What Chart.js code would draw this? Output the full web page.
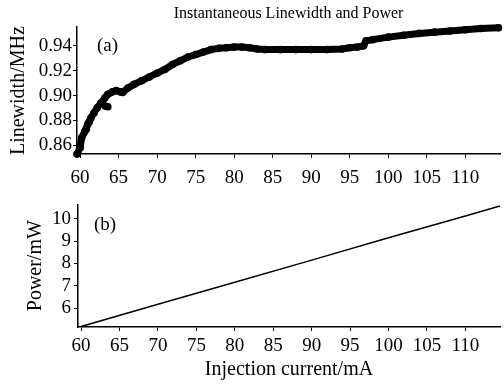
<!DOCTYPE html>
<html>
<head>
<meta charset="utf-8">
<script src="https://cdn.jsdelivr.net/npm/chart.js@4"></script>
<style>
  html, body { margin: 0; padding: 0; background: #fff; }
  #wrap { position: relative; width: 504px; height: 384px; }
  canvas { position: absolute; left: 0; }
</style>
</head>
<body>
<div id="wrap">
  <canvas id="lw" width="504" height="190" style="top:0"></canvas>
  <canvas id="pw" width="504" height="194" style="top:190px"></canvas>
</div>
<script>
// (a) linewidth vs injection current
const currentA = [59.6, 60.0, 60.2, 60.6, 61.0, 61.4, 61.8, 62.2, 62.7, 63.2, 63.6, 64.2, 64.7, 65.2, 65.6,
  66.2, 67.0, 68.0, 69.0, 70.0, 71.0, 72.0, 73.0, 74.0, 75.0, 76.0, 77.0, 78.0, 79.0, 80.0,
  81.0, 82.0, 83.0, 84.0, 86.0, 88.0, 90.0, 92.0, 94.0, 95.0, 96.0, 96.8, 97.1, 98.0,
  100.0, 102.0, 104.0, 106.0, 108.0, 110.0, 112.0, 114.3];
const linewidth = [0.853, 0.858, 0.866, 0.871, 0.877, 0.882, 0.886, 0.890, 0.894, 0.898, 0.901, 0.903, 0.904, 0.903, 0.903,
  0.906, 0.909, 0.912, 0.915, 0.918, 0.921, 0.925, 0.928, 0.931, 0.933, 0.935, 0.937, 0.938, 0.9385, 0.939,
  0.939, 0.9385, 0.9375, 0.937, 0.937, 0.937, 0.937, 0.937, 0.9375, 0.9385, 0.939, 0.940, 0.944, 0.945,
  0.947, 0.9485, 0.950, 0.951, 0.952, 0.953, 0.954, 0.9545];
// scattered points off the main trace
const strayCurrent = [60.8, 61.2, 63.3, 63.6, 65.5];
const strayLinewidth = [0.873, 0.879, 0.8915, 0.891, 0.9025];

// (b) output power vs injection current
const currentB = [60, 70, 80, 90, 100, 110, 114.5];
const power = [5.17, 6.17, 7.16, 8.15, 9.15, 10.13, 10.58];

const xTicks = [60, 65, 70, 75, 80, 85, 90, 95, 100, 105, 110];
const lwTicks = [0.86, 0.88, 0.90, 0.92, 0.94];
const pwTicks = [6, 7, 8, 9, 10];

Chart.defaults.font.family = "'Liberation Serif', 'Times New Roman', serif";
Chart.defaults.color = '#000';

const pts = (xs, ys) => xs.map((x, i) => ({ x: x, y: ys[i] }));
const fixTicks = list => s => { s.ticks = list.map(v => ({ value: v })); };

// "(a)" / "(b)" tag in the upper left of the plot area
const panelTag = {
  id: 'panelTag',
  afterDraw(chart, args, opts) {
    const { ctx, chartArea } = chart;
    ctx.save();
    ctx.font = "19px 'Liberation Serif'";
    ctx.fillStyle = '#000';
    ctx.textBaseline = 'middle';
    ctx.fillText(opts.text, chartArea.left + opts.dx, chartArea.top + opts.dy);
    ctx.restore();
  }
};

function axis(min, max, ticks, fmt, fit, extra, pad) {
  return Object.assign({
    type: 'linear', min: min, max: max,
    afterBuildTicks: fixTicks(ticks),
    afterFit: fit,
    grid: { drawOnChartArea: false, drawTicks: true, tickLength: 4, color: '#000', lineWidth: 1 },
    border: { display: true, color: '#000', width: 1.5 },
    ticks: { font: { size: 19 }, color: '#000', autoSkip: false, maxRotation: 0, padding: pad, callback: fmt }
  }, extra);
}

new Chart(document.getElementById('lw'), {
  type: 'scatter',
  data: {
    datasets: [{
      data: pts(currentA, linewidth),
      showLine: true, borderColor: '#000', borderWidth: 7,
      borderCapStyle: 'round', borderJoinStyle: 'round',
      pointRadius: 3.8, pointBackgroundColor: '#000', pointBorderWidth: 0,
      clip: false
    }, {
      data: pts(strayCurrent, strayLinewidth),
      pointRadius: 3.8, pointBackgroundColor: '#000', pointBorderWidth: 0,
      clip: false
    }]
  },
  options: {
    responsive: false, animation: false,
    layout: { padding: { top: 1, right: 4, left: 0, bottom: 0 } },
    plugins: {
      legend: { display: false }, tooltip: { enabled: false },
      title: {
        display: true, text: 'Instantaneous Linewidth and Power', fullSize: false,
        color: '#000', font: { size: 16, weight: 'normal' }, padding: { top: 3, bottom: 4 }
      },
      panelTag: { text: '(a)', dx: 20, dy: 19 }
    },
    scales: {
      x: axis(59.6, 114.5, xTicks, v => v, s => { s.height = 36; }, {}, 9),
      y: axis(0.853, 0.955, lwTicks, v => v.toFixed(2), s => { s.width = 77; }, {
        title: { display: true, text: 'Linewidth/MHz', color: '#000', font: { size: 20 }, padding: { top: 7, bottom: 0 } }
      }, 1)
    }
  },
  plugins: [panelTag]
});

new Chart(document.getElementById('pw'), {
  type: 'scatter',
  data: {
    datasets: [{
      data: pts(currentB, power),
      showLine: true, borderColor: '#000', borderWidth: 1.5,
      pointRadius: 0
    }]
  },
  options: {
    responsive: false, animation: false,
    layout: { padding: { top: 8, right: 4, left: 0, bottom: 0 } },
    plugins: {
      legend: { display: false }, tooltip: { enabled: false },
      panelTag: { text: '(b)', dx: 16, dy: 21 }
    },
    scales: {
      x: axis(59.6, 114.5, xTicks, v => v, s => { s.height = 57; }, {
        title: { display: true, text: 'Injection current/mA', color: '#000', font: { size: 20 }, padding: { top: 0, bottom: 2 } }
      }, 4),
      y: axis(5.15, 10.65, pwTicks, v => v, s => { s.width = 78; }, {
        title: { display: true, text: 'Power/mW', color: '#000', font: { size: 20 }, padding: { top: 24, bottom: 0 } }
      }, 3)
    }
  },
  plugins: [panelTag]
});
</script>
</body>
</html>
